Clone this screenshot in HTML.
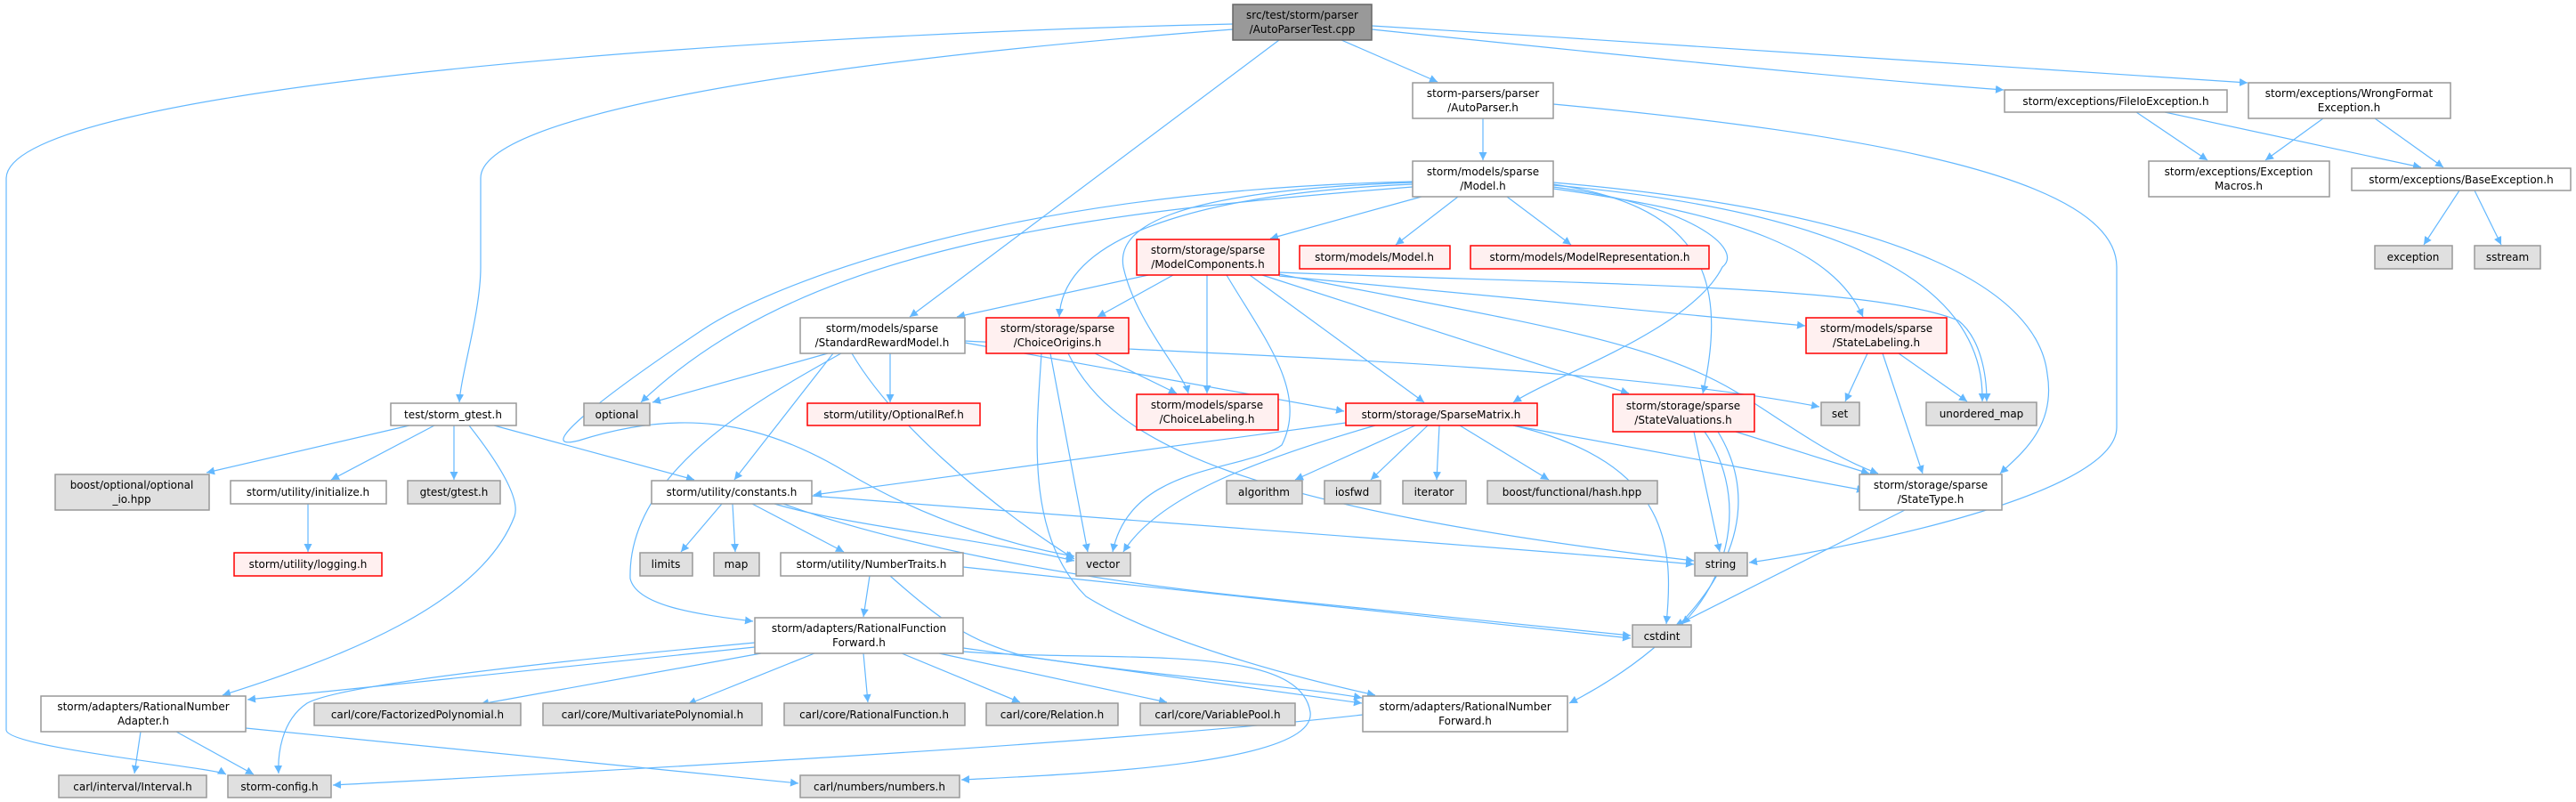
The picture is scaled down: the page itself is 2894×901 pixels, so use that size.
<!DOCTYPE html>
<html><head><meta charset="utf-8"><style>
html,body{margin:0;padding:0;background:#fff}
svg{display:block}
text{font-family:"DejaVu Sans","Liberation Sans",sans-serif;font-size:12px;fill:#000}
.e{fill:none;stroke:#63b8ff;stroke-width:1.2}
.n{fill:#fff;stroke:#999;stroke-width:1.5}
.r{fill:#fff0f0;stroke:#f00;stroke-width:1.5}
.g{fill:#e0e0e0;stroke:#999;stroke-width:1.5}
.root{fill:#999;stroke:#666;stroke-width:1.5}
</style></head><body>
<svg width="2894" height="901" viewBox="0 0 2894 901" xmlns="http://www.w3.org/2000/svg">
<defs><marker id="a" viewBox="0 0 10 10" refX="10" refY="5" markerWidth="9" markerHeight="9" markerUnits="userSpaceOnUse" orient="auto"><path d="M0,0 L10,5 L0,10 z" fill="#63b8ff"/></marker></defs>
<g marker-end="url(#a)">
<path class="e" d="M1385,27 C800,40 10,100 7,200 L7,820 C7,840 240,862 254,870"/>
<path class="e" d="M1385,33 C900,70 540,130 540,200 L540,300 C540,350 518,420 516,452"/>
<path class="e" d="M1437,45 L1022,356"/>
<path class="e" d="M1507,45 L1615,92"/>
<path class="e" d="M1541,33 C1800,60 2100,90 2251,101"/>
<path class="e" d="M1541,29 C1900,50 2300,80 2525,93"/>
<path class="e" d="M1666,133 L1666,180"/>
<path class="e" d="M1745,117 C2100,150 2378,200 2378,300 L2378,480 C2378,560 2050,620 1965,632"/>
<path class="e" d="M2400,126 L2480,180"/>
<path class="e" d="M2432,126 L2720,188"/>
<path class="e" d="M2610,133 L2545,180"/>
<path class="e" d="M2668,133 L2745,188"/>
<path class="e" d="M2763,214 L2723,275"/>
<path class="e" d="M2780,214 L2810,275"/>
<path class="e" d="M1597,221 L1427,268"/>
<path class="e" d="M1638,221 L1568,275"/>
<path class="e" d="M1693,221 L1765,275"/>
<path class="e" d="M1587,207 C1400,215 1195,250 1190,356"/>
<path class="e" d="M1587,205 C1300,215 1255,260 1262,300 C1275,360 1330,420 1335,442"/>
<path class="e" d="M1587,210 C1200,240 900,280 720,452"/>
<path class="e" d="M1587,204 C1100,215 850,330 790,370 C700,430 590,510 650,495 C760,460 850,470 950,530 C1050,590 1150,615 1207,625"/>
<path class="e" d="M1745,207 C1900,230 1945,300 1913,442"/>
<path class="e" d="M1745,210 C1900,230 1960,280 1935,300 C1900,370 1750,420 1700,452"/>
<path class="e" d="M1745,212 C1950,240 2060,280 2093,356"/>
<path class="e" d="M1745,208 C2100,240 2230,330 2227,451"/>
<path class="e" d="M1745,205 C2150,240 2290,330 2300,420 C2310,480 2270,510 2247,532"/>
<path class="e" d="M1290,309 L1075,356"/>
<path class="e" d="M1318,309 L1233,356"/>
<path class="e" d="M1356,309 L1356,442"/>
<path class="e" d="M1378,309 C1420,380 1470,440 1440,500 C1400,530 1270,520 1250,620"/>
<path class="e" d="M1404,309 L1600,452"/>
<path class="e" d="M1418,309 L1830,442"/>
<path class="e" d="M1437,310 L2028,366"/>
<path class="e" d="M1437,306 C1800,320 2100,320 2200,360 C2225,380 2232,420 2232,451"/>
<path class="e" d="M1437,308 C1700,360 1850,380 1950,440 C2000,470 2050,510 2110,532"/>
<path class="e" d="M930,397 L733,452"/>
<path class="e" d="M1000,397 L1000,452"/>
<path class="e" d="M936,397 L825,539"/>
<path class="e" d="M945,397 C850,450 705,530 708,650 C715,680 780,690 846,698"/>
<path class="e" d="M957,397 C1000,470 1100,560 1207,628"/>
<path class="e" d="M1084,385 L1510,462"/>
<path class="e" d="M1084,383 C1400,400 1800,410 2044,457"/>
<path class="e" d="M1200,397 C1250,500 1400,570 1903,630"/>
<path class="e" d="M1180,397 L1222,620"/>
<path class="e" d="M1230,397 L1322,442"/>
<path class="e" d="M1170,397 C1165,480 1150,600 1220,670 C1300,720 1450,760 1545,781"/>
<path class="e" d="M460,478 L232,531"/>
<path class="e" d="M488,478 L372,539"/>
<path class="e" d="M510,478 L510,539"/>
<path class="e" d="M527,478 C560,520 585,560 578,580 C540,680 380,740 250,781"/>
<path class="e" d="M555,478 L780,539"/>
<path class="e" d="M346,566 L346,620"/>
<path class="e" d="M811,566 L765,620"/>
<path class="e" d="M823,566 L826,620"/>
<path class="e" d="M845,566 L948,620"/>
<path class="e" d="M912,557 C1200,580 1700,615 1903,634"/>
<path class="e" d="M870,566 C950,590 1100,605 1207,630"/>
<path class="e" d="M880,566 C1000,610 1200,650 1400,670 C1600,690 1780,710 1832,714"/>
<path class="e" d="M977,647 L970,693"/>
<path class="e" d="M1082,637 L1832,717"/>
<path class="e" d="M1000,647 C1060,700 1090,720 1150,737 C1300,760 1450,770 1530,784"/>
<path class="e" d="M848,722 C600,745 380,770 345,790 C315,810 312,850 313,869"/>
<path class="e" d="M848,727 L278,786"/>
<path class="e" d="M855,734 L540,791"/>
<path class="e" d="M915,734 L773,791"/>
<path class="e" d="M970,734 L975,789"/>
<path class="e" d="M1013,734 L1146,789"/>
<path class="e" d="M1055,734 L1311,789"/>
<path class="e" d="M1082,728 L1530,790"/>
<path class="e" d="M1082,732 C1250,745 1460,720 1472,800 C1480,860 1200,870 1080,876"/>
<path class="e" d="M158,822 L151,869"/>
<path class="e" d="M198,822 L285,870"/>
<path class="e" d="M276,818 L897,880"/>
<path class="e" d="M1531,803 C1200,840 600,870 374,882"/>
<path class="e" d="M1590,478 L1455,539"/>
<path class="e" d="M1604,478 L1540,539"/>
<path class="e" d="M1617,478 L1614,539"/>
<path class="e" d="M1640,478 L1740,539"/>
<path class="e" d="M1545,478 C1400,520 1300,560 1262,620"/>
<path class="e" d="M1512,475 L914,556"/>
<path class="e" d="M1700,478 L2095,551"/>
<path class="e" d="M1700,478 C1880,520 1880,620 1872,701"/>
<path class="e" d="M1903,485 L1932,620"/>
<path class="e" d="M1915,485 C1960,550 1950,640 1890,701"/>
<path class="e" d="M1930,485 C2000,600 1900,720 1763,790"/>
<path class="e" d="M1950,485 L2100,532"/>
<path class="e" d="M2098,397 L2073,451"/>
<path class="e" d="M2115,397 L2160,532"/>
<path class="e" d="M2133,397 L2210,451"/>
<path class="e" d="M2140,573 L1882,703"/>
</g>
<!-- nodes -->
<rect class="root" x="1385" y="5" width="156" height="40"/><text x="1463" y="21" text-anchor="middle">src/test/storm/parser</text><text x="1463" y="37" text-anchor="middle">/AutoParserTest.cpp</text>
<rect class="n" x="1587" y="93" width="158" height="40"/><text x="1666" y="109" text-anchor="middle">storm-parsers/parser</text><text x="1666" y="125" text-anchor="middle">/AutoParser.h</text>
<rect class="n" x="1587" y="181" width="158" height="40"/><text x="1666" y="197" text-anchor="middle">storm/models/sparse</text><text x="1666" y="213" text-anchor="middle">/Model.h</text>
<rect class="r" x="1277" y="269" width="160" height="40"/><text x="1357" y="285" text-anchor="middle">storm/storage/sparse</text><text x="1357" y="301" text-anchor="middle">/ModelComponents.h</text>
<rect class="r" x="1460" y="276" width="169" height="26"/><text x="1544" y="293" text-anchor="middle">storm/models/Model.h</text>
<rect class="r" x="1652" y="276" width="268" height="26"/><text x="1786" y="293" text-anchor="middle">storm/models/ModelRepresentation.h</text>
<rect class="n" x="899" y="357" width="185" height="40"/><text x="991" y="373" text-anchor="middle">storm/models/sparse</text><text x="991" y="389" text-anchor="middle">/StandardRewardModel.h</text>
<rect class="r" x="1108" y="357" width="160" height="40"/><text x="1188" y="373" text-anchor="middle">storm/storage/sparse</text><text x="1188" y="389" text-anchor="middle">/ChoiceOrigins.h</text>
<rect class="n" x="2252" y="101" width="250" height="25"/><text x="2377" y="118" text-anchor="middle">storm/exceptions/FileIoException.h</text>
<rect class="n" x="2526" y="93" width="227" height="40"/><text x="2639" y="109" text-anchor="middle">storm/exceptions/WrongFormat</text><text x="2639" y="125" text-anchor="middle">Exception.h</text>
<rect class="n" x="2414" y="181" width="203" height="40"/><text x="2515" y="197" text-anchor="middle">storm/exceptions/Exception</text><text x="2515" y="213" text-anchor="middle">Macros.h</text>
<rect class="n" x="2642" y="189" width="246" height="25"/><text x="2765" y="206" text-anchor="middle">storm/exceptions/BaseException.h</text>
<rect class="g" x="2668" y="276" width="87" height="26"/><text x="2711" y="293" text-anchor="middle">exception</text>
<rect class="g" x="2780" y="276" width="74" height="26"/><text x="2817" y="293" text-anchor="middle">sstream</text>
<rect class="r" x="2029" y="357" width="158" height="40"/><text x="2108" y="373" text-anchor="middle">storm/models/sparse</text><text x="2108" y="389" text-anchor="middle">/StateLabeling.h</text>
<rect class="n" x="439" y="453" width="141" height="25"/><text x="509" y="470" text-anchor="middle">test/storm_gtest.h</text>
<rect class="g" x="656" y="453" width="74" height="25"/><text x="693" y="470" text-anchor="middle">optional</text>
<rect class="r" x="907" y="453" width="194" height="25"/><text x="1004" y="470" text-anchor="middle">storm/utility/OptionalRef.h</text>
<rect class="r" x="1277" y="443" width="159" height="40"/><text x="1356" y="459" text-anchor="middle">storm/models/sparse</text><text x="1356" y="475" text-anchor="middle">/ChoiceLabeling.h</text>
<rect class="r" x="1512" y="453" width="215" height="25"/><text x="1619" y="470" text-anchor="middle">storm/storage/SparseMatrix.h</text>
<rect class="r" x="1812" y="443" width="159" height="42"/><text x="1891" y="460" text-anchor="middle">storm/storage/sparse</text><text x="1891" y="476" text-anchor="middle">/StateValuations.h</text>
<rect class="g" x="2046" y="452" width="43" height="26"/><text x="2067" y="469" text-anchor="middle">set</text>
<rect class="g" x="2164" y="452" width="124" height="26"/><text x="2226" y="469" text-anchor="middle">unordered_map</text>
<rect class="g" x="62" y="533" width="173" height="40"/><text x="148" y="549" text-anchor="middle">boost/optional/optional</text><text x="148" y="565" text-anchor="middle">_io.hpp</text>
<rect class="n" x="259" y="540" width="175" height="26"/><text x="346" y="557" text-anchor="middle">storm/utility/initialize.h</text>
<rect class="g" x="458" y="540" width="104" height="26"/><text x="510" y="557" text-anchor="middle">gtest/gtest.h</text>
<rect class="n" x="732" y="540" width="180" height="26"/><text x="822" y="557" text-anchor="middle">storm/utility/constants.h</text>
<rect class="g" x="1378" y="540" width="85" height="26"/><text x="1420" y="557" text-anchor="middle">algorithm</text>
<rect class="g" x="1488" y="540" width="63" height="26"/><text x="1519" y="557" text-anchor="middle">iosfwd</text>
<rect class="g" x="1576" y="540" width="71" height="26"/><text x="1611" y="557" text-anchor="middle">iterator</text>
<rect class="g" x="1671" y="540" width="191" height="26"/><text x="1766" y="557" text-anchor="middle">boost/functional/hash.hpp</text>
<rect class="n" x="2089" y="533" width="160" height="40"/><text x="2169" y="549" text-anchor="middle">storm/storage/sparse</text><text x="2169" y="565" text-anchor="middle">/StateType.h</text>
<rect class="r" x="263" y="621" width="166" height="26"/><text x="346" y="638" text-anchor="middle">storm/utility/logging.h</text>
<rect class="g" x="719" y="621" width="59" height="26"/><text x="748" y="638" text-anchor="middle">limits</text>
<rect class="g" x="802" y="621" width="51" height="26"/><text x="827" y="638" text-anchor="middle">map</text>
<rect class="n" x="877" y="621" width="205" height="26"/><text x="979" y="638" text-anchor="middle">storm/utility/NumberTraits.h</text>
<rect class="g" x="1209" y="621" width="61" height="26"/><text x="1239" y="638" text-anchor="middle">vector</text>
<rect class="g" x="1904" y="621" width="59" height="26"/><text x="1933" y="638" text-anchor="middle">string</text>
<rect class="n" x="848" y="694" width="234" height="40"/><text x="965" y="710" text-anchor="middle">storm/adapters/RationalFunction</text><text x="965" y="726" text-anchor="middle">Forward.h</text>
<rect class="g" x="1834" y="702" width="66" height="25"/><text x="1867" y="719" text-anchor="middle">cstdint</text>
<rect class="n" x="46" y="782" width="230" height="40"/><text x="161" y="798" text-anchor="middle">storm/adapters/RationalNumber</text><text x="161" y="814" text-anchor="middle">Adapter.h</text>
<rect class="g" x="353" y="790" width="232" height="25"/><text x="469" y="807" text-anchor="middle">carl/core/FactorizedPolynomial.h</text>
<rect class="g" x="610" y="790" width="246" height="25"/><text x="733" y="807" text-anchor="middle">carl/core/MultivariatePolynomial.h</text>
<rect class="g" x="881" y="790" width="203" height="25"/><text x="982" y="807" text-anchor="middle">carl/core/RationalFunction.h</text>
<rect class="g" x="1108" y="790" width="148" height="25"/><text x="1182" y="807" text-anchor="middle">carl/core/Relation.h</text>
<rect class="g" x="1281" y="790" width="174" height="25"/><text x="1368" y="807" text-anchor="middle">carl/core/VariablePool.h</text>
<rect class="n" x="1531" y="782" width="230" height="40"/><text x="1646" y="798" text-anchor="middle">storm/adapters/RationalNumber</text><text x="1646" y="814" text-anchor="middle">Forward.h</text>
<rect class="g" x="66" y="871" width="166" height="25"/><text x="149" y="888" text-anchor="middle">carl/interval/Interval.h</text>
<rect class="g" x="256" y="871" width="116" height="25"/><text x="314" y="888" text-anchor="middle">storm-config.h</text>
<rect class="g" x="899" y="871" width="179" height="25"/><text x="988" y="888" text-anchor="middle">carl/numbers/numbers.h</text>
</svg>
</body></html>
